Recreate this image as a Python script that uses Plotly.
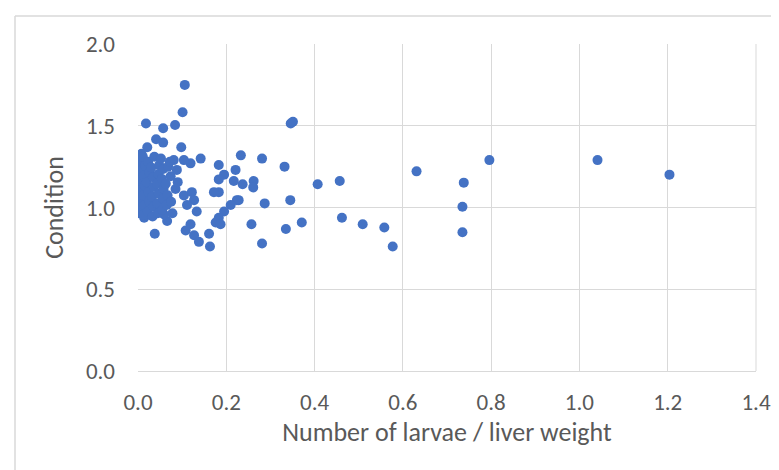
import plotly.graph_objects as go

# Number of larvae / liver weight
larvae_per_liver = [
    1.204, 1.041, 0.796, 0.738, 0.735, 0.735, 0.631, 0.577, 0.558, 0.509,
    0.462, 0.457, 0.407, 0.371, 0.346, 0.351, 0.345, 0.332, 0.281, 0.233,
    0.287, 0.335, 0.257, 0.281, 0.262, 0.261, 0.237, 0.228,
    0.106, 0.101, 0.018, 0.084, 0.057, 0.041, 0.057, 0.098, 0.021, 0.008,
    0.142, 0.183, 0.221, 0.195, 0.183, 0.217, 0.119, 0.104, 0.081, 0.074,
    0.085, 0.104, 0.122, 0.127, 0.111, 0.133, 0.183, 0.172, 0.224, 0.210,
    0.195, 0.183, 0.176, 0.187, 0.119, 0.108, 0.127, 0.138, 0.161, 0.163,
    0.038, 0.014, 0.066, 0.059,
    0.0, 0.0, 0.0, 0.0, 0.0, 0.0, 0.0, 0.0, 0.0, 0.0, 0.0,
    0.005, 0.005, 0.006, 0.004, 0.005, 0.003,
    0.012, 0.014, 0.012, 0.015, 0.013, 0.016, 0.011,
    0.022, 0.025, 0.024, 0.020, 0.026, 0.023,
    0.033, 0.035, 0.032, 0.036, 0.034, 0.030, 0.037,
    0.045, 0.044, 0.047, 0.043, 0.046, 0.048,
    0.055, 0.056, 0.058, 0.054, 0.057, 0.052,
    0.065, 0.067, 0.063, 0.068, 0.075, 0.078, 0.072, 0.088, 0.090,
]

# Condition
condition = [
    1.201, 1.290, 1.290, 1.152, 1.005, 0.849, 1.221, 0.761, 0.878, 0.898,
    0.937, 1.162, 1.142, 0.908, 1.514, 1.524, 1.045, 1.250, 1.299, 1.319,
    1.025, 0.868, 0.898, 0.780, 1.162, 1.123, 1.142, 1.045,
    1.750, 1.583, 1.514, 1.505, 1.485, 1.417, 1.397, 1.368, 1.368, 1.328,
    1.299, 1.260, 1.230, 1.201, 1.172, 1.162, 1.270, 1.290, 1.290, 1.191,
    1.113, 1.074, 1.094, 1.045, 1.015, 0.976, 1.094, 1.094, 1.045, 1.015,
    0.976, 0.937, 0.908, 0.898, 0.898, 0.859, 0.830, 0.790, 0.839, 0.761,
    0.839, 0.937, 0.917, 0.957,
    0.965, 0.995, 1.025, 1.055, 1.085, 1.115, 1.145, 1.175, 1.205, 1.235, 1.265,
    0.985, 1.045, 1.105, 1.165, 1.225, 1.290,
    0.955, 1.015, 1.075, 1.135, 1.195, 1.255, 1.310,
    0.975, 1.035, 1.095, 1.155, 1.215, 1.280,
    0.945, 1.005, 1.065, 1.125, 1.185, 1.245, 1.310,
    0.965, 1.025, 1.085, 1.145, 1.205, 1.260,
    0.985, 1.055, 1.115, 1.175, 1.235, 1.300,
    1.015, 1.075, 1.145, 1.250, 1.035, 0.965, 1.280, 1.230, 1.155,
]

x_ticks = [0.0, 0.2, 0.4, 0.6, 0.8, 1.0, 1.2, 1.4]
y_ticks = [0.0, 0.5, 1.0, 1.5, 2.0]

FONT = "Carlito, Calibri, Lato, sans-serif"
GRID = "#d9d9d9"
TXT = "#595959"

fig = go.Figure(go.Scatter(
    x=larvae_per_liver, y=condition, mode="markers",
    marker=dict(color="#4472C4", size=10, line=dict(width=0)),
    showlegend=False,
))

# plot-area geometry in page pixels
L, T, W, H = 130, 36, 618, 327
def gx(px):
    return (px - L) / W
def gy(py):
    return (T + H - py) / H

fig.update_layout(
    width=779, height=470,
    margin=dict(l=L, r=779 - L - W, t=T, b=470 - T - H),
    paper_bgcolor="white", plot_bgcolor="white",
    font=dict(family=FONT, color=TXT),
    xaxis=dict(
        range=[0, 1.4], tickvals=x_ticks,
        ticktext=[f"{v:.1f}" for v in x_ticks],
        showgrid=True, gridcolor=GRID, gridwidth=1,
        zeroline=False, showline=True, linecolor=GRID, mirror=False,
        ticks="", ticklabelstandoff=10,
        tickfont=dict(size=23, color=TXT, family=FONT),
        title=dict(text="Number of larvae / liver weight",
                   font=dict(size=26, color=TXT, family=FONT), standoff=4),
    ),
    yaxis=dict(
        range=[0, 2.0], tickvals=y_ticks,
        ticktext=[f"{v:.1f}" for v in y_ticks],
        showgrid=True, gridcolor=GRID, gridwidth=1,
        zeroline=False, showline=False,
        ticks="", ticklabelstandoff=22,
        tickfont=dict(size=23, color=TXT, family=FONT),
        title=dict(text="Condition",
                   font=dict(size=26, color=TXT, family=FONT), standoff=14),
    ),
    shapes=[
        dict(type="line", xref="paper", yref="paper",
             x0=1.0, x1=1.0, y0=0, y1=1, line=dict(color=GRID, width=1)),
        dict(type="line", xref="paper", yref="paper",
             x0=gx(7), x1=gx(779), y0=gy(8), y1=gy(8), line=dict(color=GRID, width=1.5)),
        dict(type="line", xref="paper", yref="paper",
             x0=gx(7), x1=gx(7), y0=gy(470), y1=gy(8), line=dict(color=GRID, width=1.5)),
    ],
)

fig.write_html("out.html")
